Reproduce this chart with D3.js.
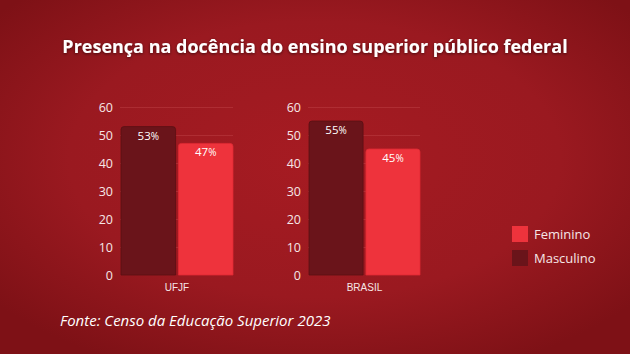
<!DOCTYPE html>
<html lang="pt">
<head>
<meta charset="utf-8" />
<title>Presença na docência</title>
<script src="https://d3js.org/d3.v7.min.js"></script>
<style>
  html, body { margin: 0; padding: 0; background: #8c1419; }
  svg { display: block; }
  .tick text { font-family: "Open Sans", sans-serif; }
</style>
</head>
<body>
<svg width="630" height="354"></svg>
<script>
// data
var regions = ["UFJF", "BRASIL"];
var series = ["Masculino", "Feminino"];
var masculino = [53, 55];
var feminino = [47, 45];
var yTicks = [0, 10, 20, 30, 40, 50, 60];
var legendOrder = ["Feminino", "Masculino"];

var colors = { Masculino: "#6a141a", Feminino: "#ee333c" };
var textCol = "#f6e6e6";

var svg = d3.select("svg"),
  width = +svg.attr("width"),
  height = +svg.attr("height");

// background
var defs = svg.append("defs");
var grad = defs.append("radialGradient")
  .attr("id", "bg").attr("cx", "50%").attr("cy", "45%").attr("r", "65%");
grad.append("stop").attr("offset", "0%").attr("stop-color", "#a61b22");
grad.append("stop").attr("offset", "60%").attr("stop-color", "#9a1920");
grad.append("stop").attr("offset", "100%").attr("stop-color", "#7e1116");
var shadow = defs.append("filter").attr("id", "shadow")
  .attr("x", "-5%").attr("y", "-30%").attr("width", "110%").attr("height", "160%");
shadow.append("feDropShadow").attr("dx", 0).attr("dy", 1).attr("stdDeviation", 1.5)
  .attr("flood-color", "#000").attr("flood-opacity", 0.55);

svg.append("rect").attr("width", width).attr("height", height).attr("fill", "url(#bg)");

// title
svg.append("text")
  .attr("x", 315).attr("y", 53)
  .attr("text-anchor", "middle")
  .attr("fill", "#ffffff")
  .attr("filter", "url(#shadow)")
  .style("font", "bold 18px 'Open Sans', sans-serif")
  .text("Presença na docência do ensino superior público federal");

// panels
var panels = [
  { left: 121, right: 233 },
  { left: 309, right: 420 }
];
var y = d3.scaleLinear().domain([0, 60]).range([275, 107]);

regions.forEach(function(region, i) {
  var p = panels[i];
  var x = d3.scaleBand().domain(series).range([p.left, p.right]).paddingInner(0.05);
  var values = [
    { key: "Masculino", value: masculino[i] },
    { key: "Feminino", value: feminino[i] }
  ];
  var g = svg.append("g");

  // gridlines
  g.selectAll(".grid").data(yTicks.slice(1)).enter().append("line")
    .attr("x1", p.left - 1).attr("x2", p.right)
    .attr("y1", function(d) { return y(d) + 0.5; })
    .attr("y2", function(d) { return y(d) + 0.5; })
    .attr("stroke", "#c0444a").attr("stroke-opacity", 0.45);

  // y axis
  var axis = g.append("g")
    .attr("transform", "translate(" + (p.left - 8) + ",0)")
    .call(d3.axisLeft(y).tickValues(yTicks).tickSize(0).tickPadding(0));
  axis.select(".domain").remove();
  axis.selectAll("text").attr("fill", textCol).style("font-size", "12.5px");

  // bars
  g.selectAll(".bar").data(values).enter().append("path")
    .attr("d", function(d) {
      var x0 = x(d.key), w = x.bandwidth(), y0 = y(d.value), y1 = y(0), r = 3;
      return "M" + x0 + "," + y1 + "V" + (y0 + r) + "Q" + x0 + "," + y0 + " " + (x0 + r) + "," + y0 +
        "H" + (x0 + w - r) + "Q" + (x0 + w) + "," + y0 + " " + (x0 + w) + "," + (y0 + r) + "V" + y1 + "Z";
    })
    .attr("fill", function(d) { return colors[d.key]; })
    .attr("stroke", function(d) { return d.key === "Masculino" ? "#5a0f13" : "#e02a33"; })
    .attr("stroke-width", 0.8);

  // value labels
  var lbl = g.selectAll(".lbl").data(values).enter().append("text")
    .attr("x", function(d) { return x(d.key) + x.bandwidth() / 2; })
    .attr("y", function(d) { return y(d.value) + 13; })
    .attr("text-anchor", "middle")
    .attr("fill", "#ffffff")
    .style("font", "11.5px 'Open Sans', sans-serif");
  lbl.append("tspan").text(function(d) { return d.value; });
  lbl.append("tspan").style("font-size", "10px").text("%");

  // category label
  g.append("text")
    .attr("x", (p.left + p.right) / 2).attr("y", 291)
    .attr("text-anchor", "middle")
    .attr("fill", textCol)
    .style("font", "10px 'Liberation Sans', Arial, sans-serif")
    .text(region);
});

// legend
var leg = svg.append("g").attr("transform", "translate(512,226)");
var item = leg.selectAll(".item").data(legendOrder).enter().append("g")
  .attr("transform", function(d, i) { return "translate(0," + (i * 24) + ")"; });
item.append("rect").attr("width", 16).attr("height", 16)
  .attr("fill", function(d) { return colors[d]; });
item.append("text").attr("x", 22).attr("y", 13)
  .attr("fill", textCol)
  .style("font", "13px 'Open Sans', sans-serif")
  .text(function(d) { return d; });

// source
svg.append("text")
  .attr("x", 60).attr("y", 326)
  .attr("fill", "#ffffff")
  .style("font", "italic 15px 'Open Sans', sans-serif")
  .text("Fonte: Censo da Educação Superior 2023");
</script>
</body>
</html>
